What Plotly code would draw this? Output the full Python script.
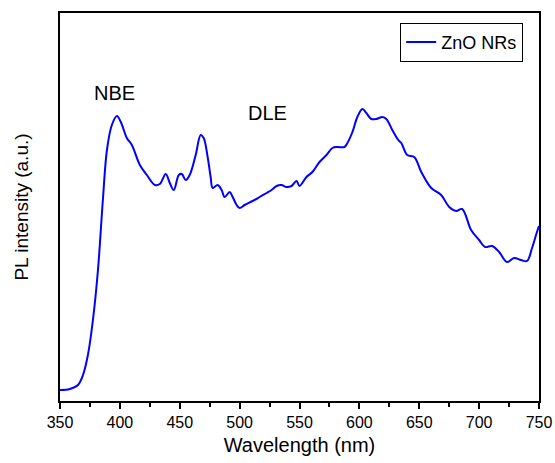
import plotly.graph_objects as go

wavelength = [350, 358.3, 365, 369.2, 373.3, 377.5, 381.7, 385.8, 389.2, 393.3, 397.5, 400.8,
              405.8, 410, 416.7, 422.5, 429.2, 433.3, 438.3, 441.7, 445, 449.2, 451.7, 455,
              458.3, 463.3, 467.5, 470, 473.3, 475.8, 477.5, 481.7, 485, 487.5, 491.7, 494.2,
              497.5, 500, 504.2, 510.8, 516.7, 522.5, 526.7, 530.8, 535, 539.2, 543.3, 547.5,
              550, 555.8, 560.8, 566.7, 572.5, 577.5, 581.7, 587.5, 590, 594.2, 598.3, 602.5,
              605.8, 610, 614.2, 619.2, 622.5, 627.5, 632.5, 635, 640, 645.8, 651.7, 660,
              668.3, 675, 680.8, 685.8, 693.3, 700, 705, 710.8, 716.7, 723.3, 729.2, 735,
              740, 744.2, 748.3, 750]
intensity = [11, 12, 16, 26, 46, 81, 131, 201, 251, 276, 285, 279,
             263, 256, 236, 226, 216, 217, 227, 218, 211, 226, 227, 221,
             226, 246, 266, 263, 244, 224, 213, 216, 211, 204, 209, 204,
             196, 193, 196, 200, 204, 208, 211, 215, 216, 214, 215, 220,
             215, 224, 229, 239, 246, 253, 254, 254, 258, 269, 284, 292,
             288, 282, 282, 284, 282, 271, 261, 258, 246, 244, 229, 213,
             206, 194, 190, 192, 171, 161, 154, 155, 149, 139, 143, 141,
             140, 153, 169, 175]

x_ticks = [350, 400, 450, 500, 550, 600, 650, 700, 750]
series_name = "ZnO NRs"
labels = ["NBE", "DLE"]
label_x = [395.8, 523.3]
label_y = [308, 288]

FONT = "Liberation Sans, Arial, sans-serif"

fig = go.Figure()
fig.add_trace(go.Scatter(x=wavelength, y=intensity, mode="lines", name=series_name,
                         line=dict(color="#0000FF", width=2), line_shape="spline"))

for t, xx, yy in zip(labels, label_x, label_y):
    fig.add_annotation(x=xx, y=yy, text=t, showarrow=False,
                       font=dict(family=FONT, size=20, color="black"))

fig.update_layout(
    width=555, height=463,
    margin=dict(l=60, r=16, t=13, b=62),
    paper_bgcolor="white", plot_bgcolor="white",
    font=dict(family=FONT, color="black"),
    showlegend=True,
    legend=dict(x=0.967, y=0.975, xanchor="right", yanchor="top",
                bordercolor="black", borderwidth=1, bgcolor="white",
                font=dict(family=FONT, size=18), tracegroupgap=0,
                itemwidth=30),
)
fig.update_xaxes(range=[350, 750], tickvals=x_ticks, ticks="outside", ticklen=6,
                 tickwidth=1.5, tickcolor="black", automargin=False,
                 minor=dict(dtick=25, tick0=350, ticks="outside", ticklen=4, tickcolor="black"),
                 showline=True, linecolor="black", linewidth=2, mirror=True,
                 showgrid=False, zeroline=False,
                 tickfont=dict(family=FONT, size=16),
                 title=dict(text="Wavelength (nm)", font=dict(family=FONT, size=20), standoff=8))
fig.update_yaxes(range=[0, 388], showticklabels=False, ticks="", automargin=False,
                 showline=True, linecolor="black", linewidth=2, mirror=True,
                 showgrid=False, zeroline=False,
                 title=dict(text="PL intensity (a.u.)", font=dict(family=FONT, size=19), standoff=24))

fig.write_html("out.html")
